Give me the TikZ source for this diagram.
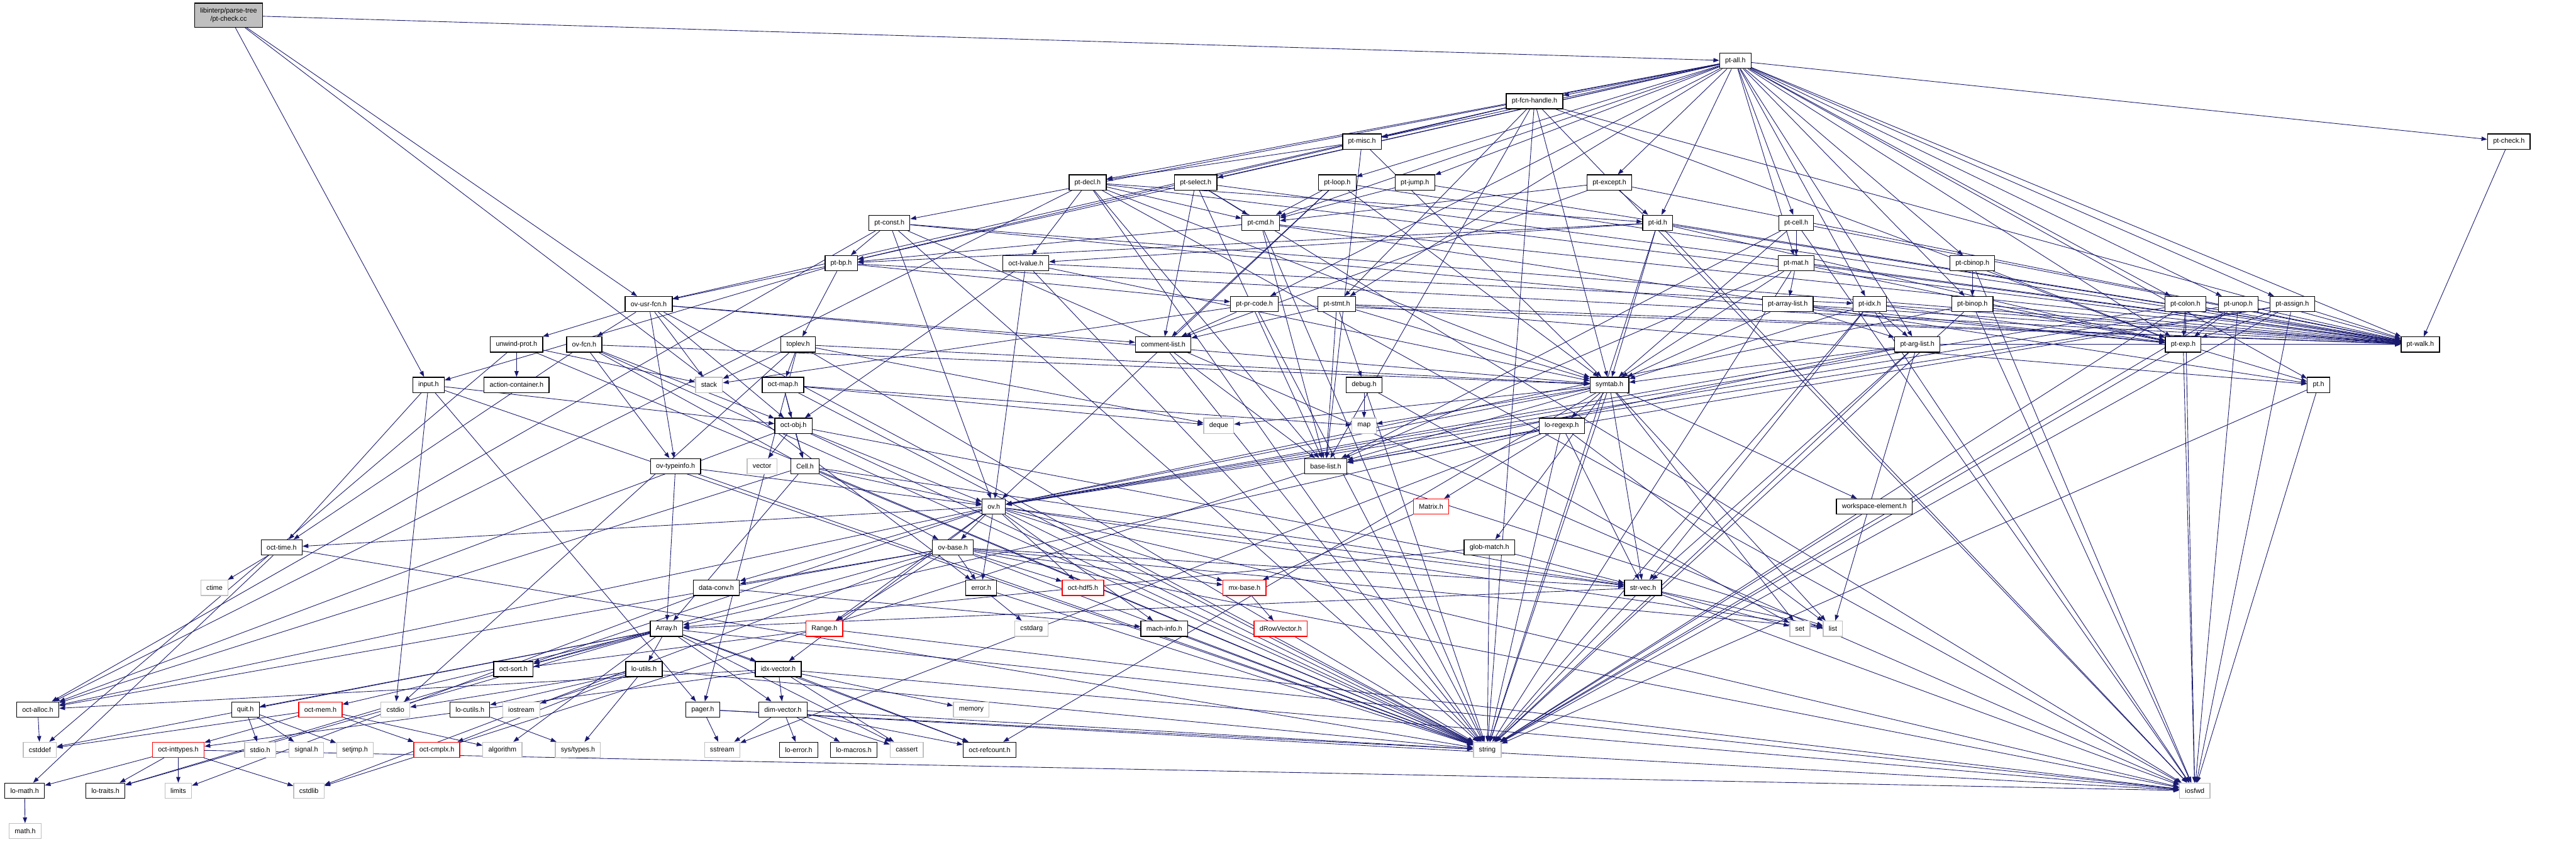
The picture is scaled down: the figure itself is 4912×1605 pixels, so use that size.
\documentclass[tikz,border=0pt]{standalone}
\usepackage{fontspec}
\setmainfont{Liberation Sans}
\usepackage{tikz}
\usetikzlibrary{arrows.meta,backgrounds}
\definecolor{edgeblue}{HTML}{191970}
\definecolor{sysgray}{HTML}{BFBFBF}

\begin{document}
\begin{tikzpicture}[
  x=0.1mm, y=-0.1mm,
  hdr/.style={draw=black, line width=0.45pt, fill=white, inner xsep=1.05mm, inner ysep=0pt, minimum height=2.9mm, font=\fontsize{3.7}{4.4}\selectfont},
  sys/.style={hdr, draw=sysgray},
  trunc/.style={hdr, draw=red},
  dep/.style={-{Triangle[length=1.1mm,width=0.8mm]}, draw=edgeblue, line width=0.3pt}
]
\useasboundingbox (0,0) rectangle (4912,1605);

% source file
\node[hdr, fill=sysgray, align=center, minimum height=4.6mm] (ptcheckcc) at (436,29) {libinterp/parse-tree\\/pt-check.cc};

% parse tree headers
\node[hdr] (ptall) at (3309,116) {pt-all.h};
\node[hdr] (ptfcnhandle) at (2926,193) {pt-fcn-handle.h};
\node[hdr] (ptmisc) at (2597,270) {pt-misc.h};
\node[hdr] (ptcheckh) at (4784,270) {pt-check.h};
\node[hdr] (ptdecl) at (2074,348) {pt-decl.h};
\node[hdr] (ptselect) at (2280,348) {pt-select.h};
\node[hdr] (ptloop) at (2550,348) {pt-loop.h};
\node[hdr] (ptjump) at (2698,348) {pt-jump.h};
\node[hdr] (ptexcept) at (3069,348) {pt-except.h};
\node[hdr] (ptconst) at (1696,425) {pt-const.h};
\node[hdr] (ptcmd) at (2404,425) {pt-cmd.h};
\node[hdr] (ptid) at (3161,425) {pt-id.h};
\node[hdr] (ptcell) at (3425,425) {pt-cell.h};
\node[hdr] (ptbp) at (1604,502) {pt-bp.h};
\node[hdr] (octlvalue) at (1956,502) {oct-lvalue.h};
\node[hdr] (ptmat) at (3425,502) {pt-mat.h};
\node[hdr] (ptcbinop) at (3761,502) {pt-cbinop.h};
\node[hdr] (ovusrfcn) at (1237,580) {ov-usr-fcn.h};
\node[hdr] (ptprcode) at (2392,580) {pt-pr-code.h};
\node[hdr] (ptstmt) at (2549,580) {pt-stmt.h};
\node[hdr] (ptarraylist) at (3409,580) {pt-array-list.h};
\node[hdr] (ptidx) at (3565,580) {pt-idx.h};
\node[hdr] (ptbinop) at (3761,580) {pt-binop.h};
\node[hdr] (ptcolon) at (4167,580) {pt-colon.h};
\node[hdr] (ptunop) at (4268,580) {pt-unop.h};
\node[hdr] (ptassign) at (4371,580) {pt-assign.h};
\node[hdr] (unwindprot) at (985,657) {unwind-prot.h};
\node[hdr] (ovfcn) at (1114,657) {ov-fcn.h};
\node[hdr] (toplev) at (1522,657) {toplev.h};
\node[hdr] (commentlist) at (2218,657) {comment-list.h};
\node[hdr] (ptarglist) at (3656,657) {pt-arg-list.h};
\node[hdr] (ptexp) at (4163,657) {pt-exp.h};
\node[hdr] (ptwalk) at (4615,657) {pt-walk.h};
\node[hdr] (input) at (817,734) {input.h};
\node[hdr] (actioncontainer) at (985,734) {action-container.h};
\node[sys] (stack) at (1352,734) {stack};
\node[hdr] (octmap) at (1493,734) {oct-map.h};
\node[hdr] (debug) at (2601,734) {debug.h};
\node[hdr] (symtab) at (3069,734) {symtab.h};
\node[hdr] (pt) at (4421,734) {pt.h};
\node[hdr] (octobj) at (1513,812) {oct-obj.h};
\node[sys] (deque) at (2324,812) {deque};
\node[sys] (map) at (2601,812) {map};
\node[hdr] (loregexp) at (2978,812) {lo-regexp.h};
\node[hdr] (ovtypeinfo) at (1288,889) {ov-typeinfo.h};
\node[sys] (vector) at (1453,889) {vector};
\node[hdr] (cell) at (1535,889) {Cell.h};
\node[hdr] (baselist) at (2528,889) {base-list.h};
\node[hdr] (ov) at (1895,966) {ov.h};
\node[trunc] (matrix) at (2729,966) {Matrix.h};
\node[hdr] (workspace) at (3574,966) {workspace-element.h};
\node[hdr] (octtime) at (537,1044) {oct-time.h};
\node[hdr] (ovbase) at (1817,1044) {ov-base.h};
\node[hdr] (globmatch) at (2840,1044) {glob-match.h};

% liboctave and system headers
\node[sys] (ctime) at (409,1121) {ctime};
\node[hdr] (dataconv) at (1366,1121) {data-conv.h};
\node[hdr] (error) at (1871,1121) {error.h};
\node[trunc] (octhdf5) at (2065,1121) {oct-hdf5.h};
\node[trunc] (mxbase) at (2373,1121) {mx-base.h};
\node[hdr] (strvec) at (3133,1121) {str-vec.h};
\node[hdr] (array) at (1271,1199) {Array.h};
\node[trunc] (range) at (1572,1199) {Range.h};
\node[sys] (cstdarg) at (1967,1199) {cstdarg};
\node[hdr] (machinfo) at (2220,1199) {mach-info.h};
\node[trunc] (drowvector) at (2442,1199) {dRowVector.h};
\node[sys] (set) at (3432,1199) {set};
\node[sys] (list) at (3495,1199) {list};
\node[hdr] (octsort) at (979,1276) {oct-sort.h};
\node[hdr] (loutils) at (1228,1276) {lo-utils.h};
\node[hdr] (idxvector) at (1484,1276) {idx-vector.h};
\node[hdr] (octalloc) at (72,1353) {oct-alloc.h};
\node[hdr] (quit) at (468,1353) {quit.h};
\node[trunc] (octmem) at (611,1353) {oct-mem.h};
\node[sys] (cstdio) at (754,1353) {cstdio};
\node[hdr] (locutils) at (896,1353) {lo-cutils.h};
\node[sys] (iostream) at (994,1353) {iostream};
\node[hdr] (pager) at (1340,1353) {pager.h};
\node[hdr] (dimvector) at (1493,1353) {dim-vector.h};
\node[sys] (memory) at (1852,1353) {memory};
\node[sys] (cstddef) at (76,1430) {cstddef};
\node[trunc] (octinttypes) at (340,1430) {oct-inttypes.h};
\node[sys] (stdioh) at (496,1430) {stdio.h};
\node[sys] (signal) at (584,1430) {signal.h};
\node[sys] (setjmp) at (677,1430) {setjmp.h};
\node[trunc] (octcmplx) at (833,1430) {oct-cmplx.h};
\node[sys] (algorithm) at (958,1430) {algorithm};
\node[sys] (systypes) at (1102,1430) {sys/types.h};
\node[sys] (sstream) at (1377,1430) {sstream};
\node[hdr] (loerror) at (1523,1430) {lo-error.h};
\node[hdr] (lomacros) at (1628,1430) {lo-macros.h};
\node[sys] (cassert) at (1729,1430) {cassert};
\node[hdr] (octrefcount) at (1887,1430) {oct-refcount.h};
\node[sys] (string) at (2836,1430) {string};
\node[hdr] (lomath) at (47,1508) {lo-math.h};
\node[hdr] (lotraits) at (201,1508) {lo-traits.h};
\node[sys] (limits) at (340,1508) {limits};
\node[sys] (cstdlib) at (589,1508) {cstdlib};
\node[sys] (iosfwd) at (4185,1508) {iosfwd};
\node[sys] (mathh) at (48,1585) {math.h};

% include edges
\begin{scope}[on background layer]
\foreach \src/\dsts in {
  ptcheckcc/{ptall,error,input,ovusrfcn},
  ptall/{pt,ptarglist,ptassign,ptbp,ptbinop,ptcbinop,ptcell,ptcheckh,ptcmd,ptcolon,ptconst,ptdecl,ptexcept,ptexp,ptfcnhandle,ptid,ptidx,ptjump,ptloop,ptmat,ptmisc,ptprcode,ptselect,ptstmt,ptunop,ptwalk},
  ptfcnhandle/{ptmisc,ovusrfcn,ptbp,ptexp,ptstmt,ptwalk,symtab,iosfwd,string,baselist},
  ptmisc/{ptdecl,baselist,symtab},
  ptdecl/{octlvalue,ptcmd,ptid,ptwalk,symtab,baselist,octalloc,string,iosfwd},
  ptselect/{ptcmd,commentlist,baselist,ptwalk,iosfwd},
  ptloop/{ptcmd,commentlist,ptwalk,symtab,ov},
  ptjump/{ptcmd,ptwalk},
  ptexcept/{ptid,ptcmd,commentlist,ptwalk},
  ptconst/{ptbp,ptexp,ptwalk,ov,octalloc,string,iosfwd},
  ptcmd/{ptbp,pt,ptwalk,baselist,string},
  ptbp/{input,ovusrfcn,ptwalk,ptprcode,toplev},
  octlvalue/{octobj,ptidx,symtab,ov,string},
  ptid/{octlvalue,ptbp,ptexp,ptwalk,symtab,string,iosfwd},
  ptcell/{ptmat,baselist,ptwalk,symtab,iosfwd},
  ptmat/{ptarraylist,ptexp,ptwalk,symtab,baselist,string},
  ptcheckh/{ptwalk},
  ptcbinop/{ptbinop,ptexp,iosfwd},
  ovusrfcn/{ovfcn,unwindprot,commentlist,octobj,ovtypeinfo,stack,symtab,string},
  ptprcode/{commentlist,stack,ptwalk,string},
  ptstmt/{debug,baselist,commentlist,pt,ptwalk,symtab},
  ptarraylist/{ptarglist,ptexp,ptwalk,symtab},
  ptidx/{ptarglist,ptexp,ptwalk,symtab,strvec,string,iosfwd},
  ptbinop/{ptexp,ptwalk,ov,string,iosfwd},
  ptcolon/{ptexp,ptwalk,ov,string,iosfwd},
  ptunop/{ptexp,ptwalk,ov,string,iosfwd},
  ptassign/{ptexp,ptwalk,ov,baselist,string,iosfwd},
  unwindprot/{actioncontainer,stack,cstddef,string},
  ovfcn/{octobj,ovbase,ovtypeinfo,symtab,octtime,string},
  toplev/{octmap,stack,deque,symtab,cstdio,string,pager},
  commentlist/{baselist,string},
  ptarglist/{baselist,ptwalk,symtab,strvec,ov,list,string},
  ptexp/{pt,string,iosfwd},
  input/{cstdio,octtime,octobj,pager,string},
  octmap/{octobj,cell,map,deque,string},
  debug/{map,set,string},
  symtab/{deque,list,map,set,string,globmatch,loregexp,octrefcount,ov,workspace,baselist,strvec},
  pt/{string,iosfwd},
  octobj/{cell,vector,ov,octalloc,strvec,string},
  loregexp/{matrix,baselist,array,strvec,list,string,sstream},
  ovtypeinfo/{array,ov,string},
  cell/{array,ov,octalloc,strvec,string},
  baselist/{list,cstdlib},
  ov/{ovbase,string,list,iosfwd,range,dataconv,idxvector,machinfo,mxbase,octalloc,octtime,strvec,octhdf5,octsort,error},
  matrix/{mxbase},
  workspace/{string},
  octtime/{ctime,string,lomath},
  ovbase/{string,list,iosfwd,range,dataconv,mxbase,octalloc,octhdf5,octsort,strvec,error,cstdlib},
  globmatch/{array,strvec,string},
  dataconv/{limits,machinfo},
  error/{cstdarg,string},
  mxbase/{drowvector},
  strvec/{array,iosfwd,list,set,string},
  array/{cassert,cstddef,iosfwd,algorithm,dimvector,idxvector,lotraits,loutils,octsort,quit,octmem,octrefcount},
  range/{iosfwd,octsort},
  machinfo/{string},
  octsort/{lotraits},
  loutils/{cstdio,iostream,string,locutils,octcmplx,systypes},
  idxvector/{cassert,iosfwd,memory,dimvector,octinttypes,octalloc,octrefcount},
  octalloc/{cstddef},
  quit/{stdioh,signal,setjmp},
  octmem/{cstddef,algorithm,octcmplx,octinttypes},
  locutils/{systypes},
  pager/{iosfwd,sstream,string},
  dimvector/{cassert,sstream,string,loerror,lomacros,octrefcount},
  octinttypes/{cstdlib,limits,iosfwd,lomath,lotraits},
  lomath/{mathh}}
  \foreach \dst in \dsts
    \draw[dep] (\src) -- (\dst);
\end{scope}
\end{tikzpicture}
\end{document}
